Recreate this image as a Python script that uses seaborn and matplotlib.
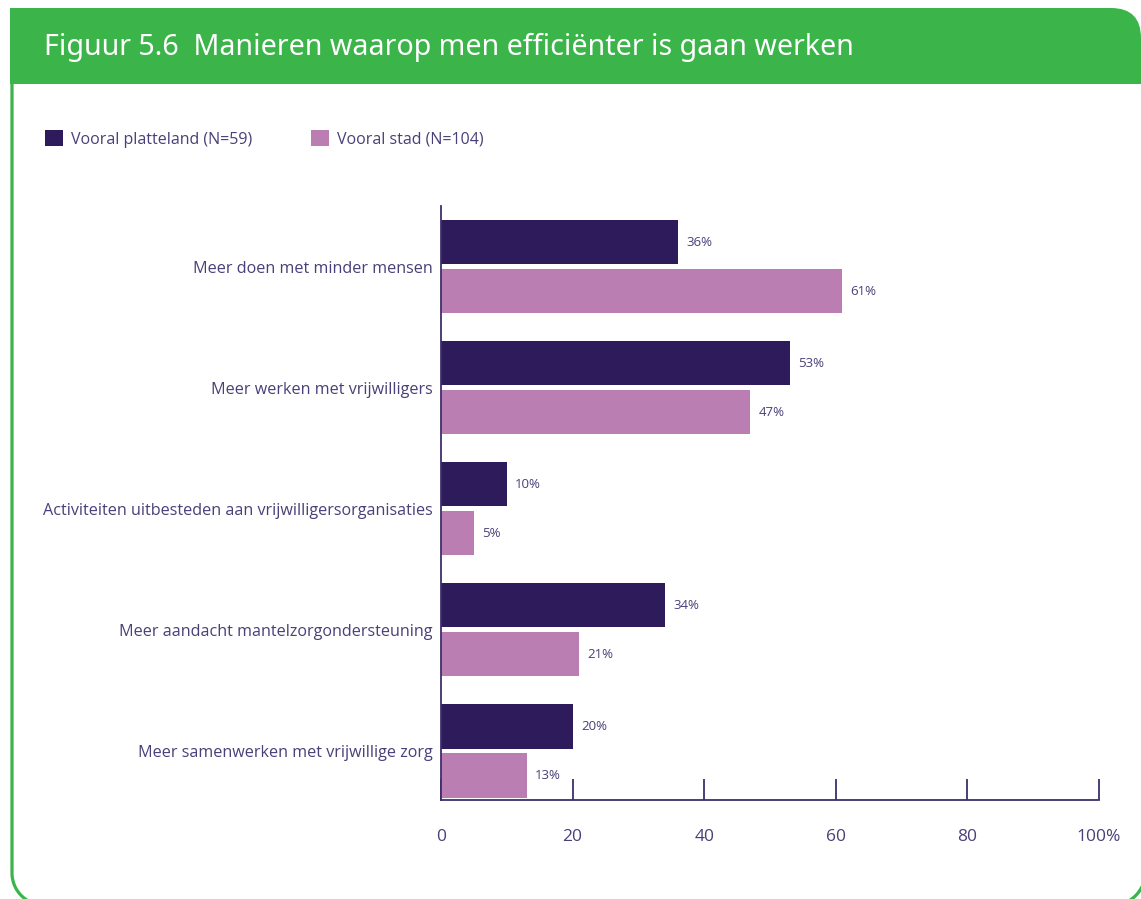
import matplotlib
matplotlib.use("Agg")
import matplotlib.pyplot as plt
import seaborn as sns
import pandas as pd
import numpy as np
from matplotlib.patches import FancyBboxPatch, Rectangle

categories = [
    "Meer doen met minder mensen",
    "Meer werken met vrijwilligers",
    "Activiteiten uitbesteden aan vrijwilligersorganisaties",
    "Meer aandacht mantelzorgondersteuning",
    "Meer samenwerken met vrijwillige zorg",
]
series_names = ["Vooral platteland (N=59)", "Vooral stad (N=104)"]
platteland = [36, 53, 10, 34, 20]
stad = [61, 47, 5, 21, 13]
x_ticks = [0, 20, 40, 60, 80, 100]
x_ticklabels = ["0", "20", "40", "60", "80", "100%"]
title = "Figuur 5.6  Manieren waarop men efficiënter is gaan werken"

DARK = "#2d1b5c"
PINK = "#ba7eb3"
TEXT = "#4a3f78"
AXIS = "#3d2f6b"
GREEN = "#3bb54a"

df = pd.DataFrame({
    "cat": categories * 2,
    "serie": [series_names[0]] * len(categories) + [series_names[1]] * len(categories),
    "val": platteland + stad,
})

sns.set_theme(style="white")
plt.rcParams["font.family"] = ["Open Sans", "DejaVu Sans"]

W, H = 1141, 899
fig = plt.figure(figsize=(W / 100, H / 100), dpi=100)

# frame / header in pixel coordinates
bg = fig.add_axes([0, 0, 1, 1])
bg.set_xlim(0, W)
bg.set_ylim(H, 0)
bg.axis("off")

# frame outline: left side, bottom-left corner, bottom, bottom-right corner, right side
r = 32
xl, xr, yb = 12, 1145, 905
t1 = np.linspace(np.pi, np.pi / 2, 30)
t2 = np.linspace(np.pi / 2, 0, 30)
fx = np.concatenate([[xl], xl + r + r * np.cos(t1), xr - r + r * np.cos(t2), [xr]])
fy = np.concatenate([[84], yb - r + r * np.sin(t1), yb - r + r * np.sin(t2), [84]])
bg.plot(fx, fy, color=GREEN, lw=2.3, solid_capstyle="butt")

bg.add_patch(FancyBboxPatch((10, 8), 1131, 76, boxstyle="round,pad=0,rounding_size=30",
                            facecolor=GREEN, edgecolor="none"))
bg.add_patch(Rectangle((10, 8), 200, 76, facecolor=GREEN, edgecolor="none"))
bg.add_patch(Rectangle((10, 45), 1131, 39, facecolor=GREEN, edgecolor="none"))
bg.text(44, 47, title, color="white", fontsize=20.6, fontweight="semibold",
        va="center", ha="left", family=["Noto Sans", "DejaVu Sans"])

ax = fig.add_axes([441 / W, 1 - 800 / H, (1099 - 441) / W, (800 - 206) / H])
sns.barplot(data=df, y="cat", x="val", hue="serie", orient="h",
            palette=[DARK, PINK], width=0.81, gap=0.1, ax=ax, saturation=1,
            linewidth=0)

ax.set_xlim(0, 100)
ax.set_ylim(4.405, -0.5)
ax.set_xlabel("")
ax.set_ylabel("")
ax.set_xticks(x_ticks)
ax.set_xticklabels(x_ticklabels)
ax.tick_params(axis="x", direction="in", length=15, width=1.3, color=AXIS,
               labelsize=12.5, labelcolor=TEXT, pad=21, bottom=True)
ax.tick_params(axis="y", length=0, labelsize=11.6, labelcolor=TEXT, pad=6)
for s in ["top", "right"]:
    ax.spines[s].set_visible(False)
for s in ["left", "bottom"]:
    ax.spines[s].set_color(AXIS)
    ax.spines[s].set_linewidth(1.3)

for cont in ax.containers:
    ax.bar_label(cont, labels=[f"{v:.0f}%" for v in cont.datavalues],
                 padding=6, fontsize=9.5, color=TEXT)

sns.move_legend(ax, "center left", bbox_to_anchor=(31 / W, 1 - 139 / H),
                bbox_transform=fig.transFigure, ncol=2, frameon=False, title=None,
                fontsize=11.5, handlelength=1.1, handleheight=1.1,
                handletextpad=0.5, columnspacing=3.7, labelcolor=TEXT)

fig.savefig("out.png", dpi=100)
